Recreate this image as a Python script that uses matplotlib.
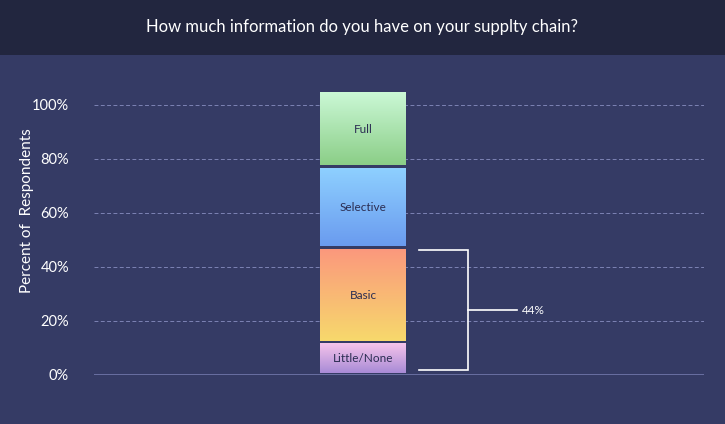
import numpy as np
import matplotlib
matplotlib.use("Agg")
import matplotlib.pyplot as plt
from matplotlib.colors import LinearSegmentedColormap

# ---- data ----
categories = ["Little/None", "Basic", "Selective", "Full"]
values = [12, 35, 30, 28]
yticks = [0, 20, 40, 60, 80, 100]
ytick_labels = ["0%", "20%", "40%", "60%", "80%", "100%"]
bracket_label = "44%"
title = "How much information do you have on your supplty chain?"
ylabel = "Percent of  Respondents"

# ---- style ----
grad_colors = [("#a88bd6", "#f6c4eb"),
               ("#f7d96c", "#fb987d"),
               ("#6a9bef", "#8ed0ff"),
               ("#8bce87", "#cbf8d6")]
bg = "#353b65"
band = "#22263f"
W, H = 725, 424
plt.rcParams['font.family'] = ['Lato', 'DejaVu Sans']

fig = plt.figure(figsize=(W / 100, H / 100), dpi=100)
fig.patch.set_facecolor(bg)
# title band
fig.patches.append(plt.Rectangle((0, 1 - 55 / H), 1, 55 / H, transform=fig.transFigure,
                                 facecolor=band, edgecolor="none", zorder=0))
fig.text(0.5, 1 - 27 / H, title, color="white", fontsize=12, ha="center", va="center")

ax_l, ax_r, ax_b, ax_t = 94, 704, 375, 65
ax = fig.add_axes([ax_l / W, 1 - ax_b / H, (ax_r - ax_l) / W, (ax_b - ax_t) / H])
ax.set_facecolor(bg)
ymax = (ax_b - ax_t) / 2.7
ax.set_ylim(0, ymax)
pxu = 100.0
bar_c = 363
ax.set_xlim((ax_l - bar_c) / pxu, (ax_r - bar_c) / pxu)

bottoms = np.concatenate([[0], np.cumsum(values)[:-1]])
bars = ax.bar([0] * len(values), values, bottom=bottoms, width=0.86,
              color="none", edgecolor="none", zorder=3)
gap = 0.6
for rect, (c_bot, c_top), name in zip(bars, grad_colors, categories):
    x0, y0 = rect.get_x(), rect.get_y()
    w, h = rect.get_width(), rect.get_height()
    cmap = LinearSegmentedColormap.from_list("g", [c_bot, c_top])
    grad = np.linspace(0, 1, 256).reshape(-1, 1)
    ax.imshow(grad, extent=(x0, x0 + w, y0 + gap, y0 + h - gap), origin="lower",
              cmap=cmap, aspect="auto", zorder=3)
    ax.text(x0 + w / 2, y0 + h / 2, name, ha="center", va="center",
            fontsize=8.5, color="#2b2d52", zorder=4)

# grid & baseline
for t in yticks[1:]:
    ax.axhline(t, color="#7d83b4", lw=0.7, ls=(0, (4, 2.5)), zorder=1)
ax.axhline(0, color="#7278ab", lw=1.2, zorder=2)

ax.set_yticks(yticks)
ax.set_yticklabels(ytick_labels, color="white", fontsize=10.5)
ax.tick_params(axis="y", length=0, pad=18)
ax.set_xticks([])
for s in ax.spines.values():
    s.set_visible(False)

fig.text(27 / W, 1 - 211 / H, ylabel, rotation=90, color="white", fontsize=11,
         ha="center", va="center")

# bracket
b_top = values[0] + values[1] - 0.8
b_bot = 1.7
b_mid = (b_top + b_bot) / 2
x1, x2, x3 = 0.56, 1.05, 1.54
ax.plot([x1, x2, x2, x1], [b_top, b_top, b_bot, b_bot], color="white", lw=1.2, zorder=5,
        solid_joinstyle="miter")
ax.plot([x2, x3], [b_mid, b_mid], color="white", lw=1.2, zorder=5)
ax.text(x3 + 0.05, b_mid, bracket_label, color="white", fontsize=8.5, va="center", ha="left")

fig.savefig("out.png", dpi=100, facecolor=bg)
